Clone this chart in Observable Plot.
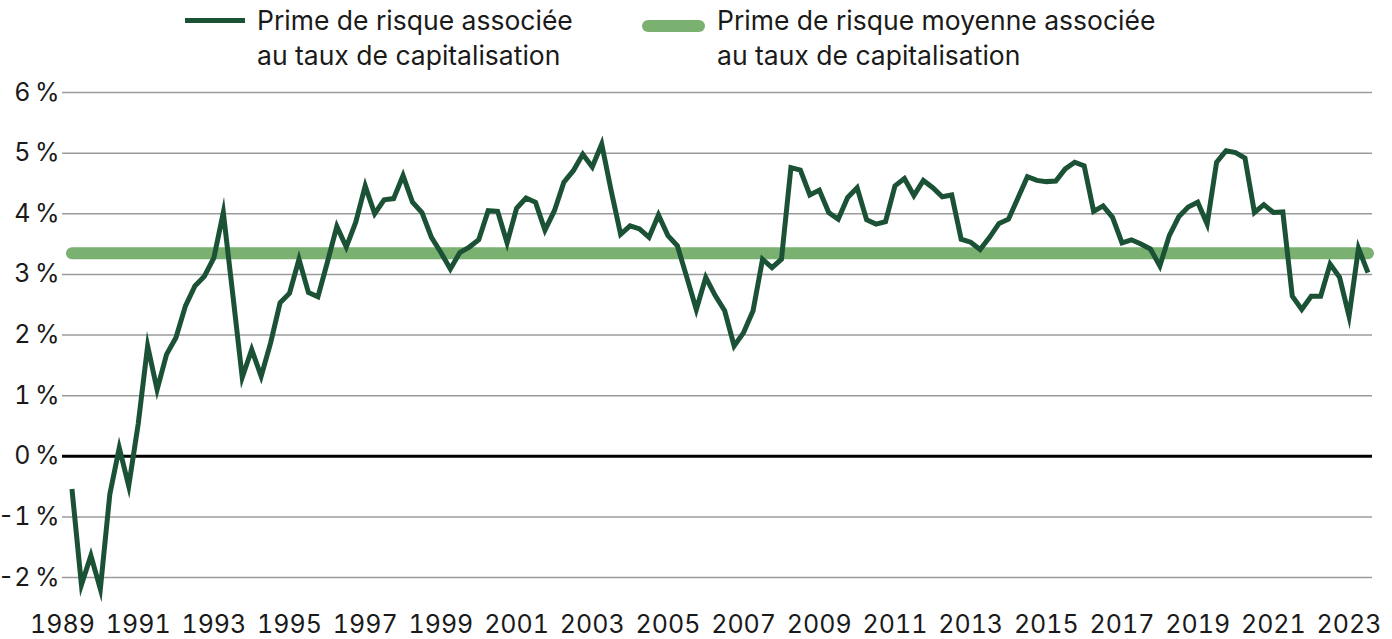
<!DOCTYPE html>
<html><head><meta charset="utf-8">
<script src="https://cdn.jsdelivr.net/npm/d3@7"></script>
<script src="https://cdn.jsdelivr.net/npm/@observablehq/plot@0.6"></script>
<style>
body{margin:0;background:#fff;font-family:Inter,"Noto Sans",sans-serif;color:#1a1a1a;}
#legend{position:relative;height:80px;width:1392px;}
.sw{position:absolute;}
.lt{position:absolute;font-size:26.5px;line-height:35px;white-space:nowrap;}
#chart svg{display:block;}
</style></head><body>
<div id="legend"></div>
<div id="chart"></div>
<script>
const seriesNames = ["Prime de risque associée\nau taux de capitalisation", "Prime de risque moyenne associée\nau taux de capitalisation"];
const seriesColors = ["#1b5236", "#7ab170"];
const firstYear = 1989;           // first quarter: 1989 T1
const quarterly = [
 -0.54,-2.12,-1.64,-2.19,-0.63, 0.14,-0.49, 0.53,
  1.82, 1.10, 1.68, 1.96, 2.48, 2.81, 2.97, 3.27,
  4.02, 2.67, 1.30, 1.76, 1.32, 1.87, 2.53, 2.69,
  3.25, 2.70, 2.63, 3.20, 3.79, 3.45, 3.86, 4.46,
  4.00, 4.23, 4.25, 4.63, 4.19, 4.02, 3.61, 3.36,
  3.09, 3.36, 3.45, 3.57, 4.05, 4.04, 3.52, 4.09,
  4.26, 4.19, 3.73, 4.05, 4.52, 4.71, 4.98, 4.77,
  5.15, 4.38, 3.66, 3.80, 3.75, 3.61, 3.98, 3.64,
  3.47, 2.95, 2.42, 2.95, 2.65, 2.40, 1.82, 2.04,
  2.40, 3.25, 3.11, 3.25, 4.76, 4.72, 4.31, 4.39,
  4.02, 3.91, 4.27, 4.43, 3.90, 3.83, 3.87, 4.46,
  4.58, 4.30, 4.55, 4.43, 4.28, 4.31, 3.58, 3.53,
  3.41, 3.61, 3.84, 3.91, 4.26, 4.61, 4.55, 4.53,
  4.54, 4.74, 4.85, 4.79, 4.04, 4.13, 3.94, 3.52,
  3.57, 3.50, 3.42, 3.14, 3.64, 3.95, 4.11, 4.19,
  3.83, 4.85, 5.04, 5.01, 4.92, 4.02, 4.15, 4.02,
  4.03, 2.64, 2.42, 2.64, 2.64, 3.17, 2.95, 2.31,
  3.43, 3.03
];
const meanValue = 3.35;
const yTicks = [-2,-1,0,1,2,3,4,5,6];
const xTicks = [1989,1991,1993,1995,1997,1999,2001,2003,2005,2007,2009,2011,2013,2015,2017,2019,2021,2023];

// legend
const legend = document.getElementById("legend");
const legendItems = [
  {sw:{left:185,top:18,width:60,height:5,radius:0}, text:{left:257,top:3}},
  {sw:{left:642,top:20,width:63,height:12,radius:6}, text:{left:717,top:3}}
];
legendItems.forEach((it,i)=>{
  const s=document.createElement("div");
  s.className="sw";
  Object.assign(s.style,{left:it.sw.left+"px",top:it.sw.top+"px",width:it.sw.width+"px",height:it.sw.height+"px",borderRadius:it.sw.radius+"px",background:seriesColors[i]});
  legend.appendChild(s);
  const t=document.createElement("div");
  t.className="lt";
  Object.assign(t.style,{left:it.text.left+"px",top:it.text.top+"px"});
  seriesNames[i].split("\n").forEach(l=>{const d=document.createElement("div");d.textContent=l;t.appendChild(d);});
  legend.appendChild(t);
});

// data table (quarter positions in decimal years, end of quarter)
const data = quarterly.map((v,i)=>({t:firstYear+0.25*(i+1), v}));
const meanData = [{t:data[0].t, v:meanValue},{t:data[data.length-1].t, v:meanValue}];
const pct = d=>`${d}\u202F%`;

const chart = Plot.plot({
  width:1392, height:559,
  marginLeft:62, marginRight:20, marginTop:12, marginBottom:62,
  x:{domain:[1989,2023.62], label:null},
  y:{domain:[-2,6], label:null},
  style:{fontFamily:"Inter, 'Noto Sans', sans-serif", fontSize:"25px", color:"#1a1a1a", background:"#fff", overflow:"visible"},
  marks:[
    Plot.ruleY(yTicks.filter(d=>d!==0), {stroke:"#9b9b9b", strokeWidth:1.5}),
    Plot.ruleY([0], {stroke:"#000", strokeWidth:3}),
    Plot.line(meanData, {x:"t", y:"v", stroke:seriesColors[1], strokeWidth:12, strokeLinecap:"round"}),
    Plot.line(data, {x:"t", y:"v", stroke:seriesColors[0], strokeWidth:5, strokeLinejoin:"miter", strokeLinecap:"butt", strokeMiterlimit:10}),
    Plot.axisY({ticks:yTicks, tickFormat:pct, tickSize:0, tickPadding:3, label:null, fontSize:25}),
    Plot.axisX({ticks:xTicks, tickFormat:d=>String(d), tickSize:0, tickPadding:38, label:null, fontSize:25})
  ]
});
document.getElementById("chart").appendChild(chart);
</script>
</body></html>
